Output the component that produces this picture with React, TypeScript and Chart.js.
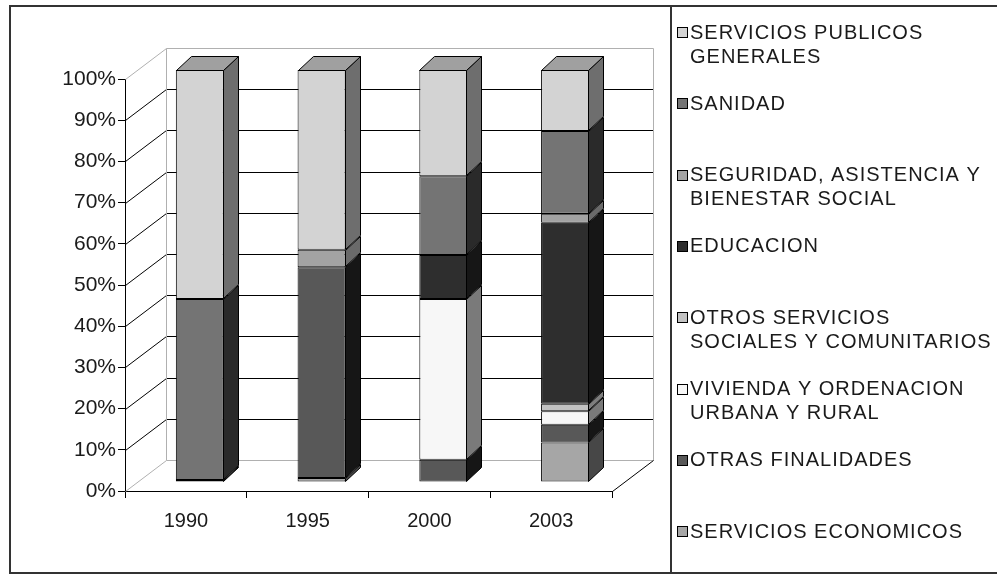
import React, { useEffect, useRef } from "react";
import { Chart, registerables } from "chart.js";

Chart.register(...registerables);

// ---- data (percent of total, bottom segment first) ----
const categories = ["1990", "1995", "2000", "2003"];
const serviciosEconomicos = [0.5, 1.0, null, 9.6];
const otrasFinalidades = [null, 51.1, 5.4, 4.3];
const viviendaOrdenacion = [null, null, 39.0, 3.3];
const otrosServiciosSociales = [null, null, null, 1.8];
const educacion = [null, null, 10.7, 43.9];
const seguridadAsistencia = [null, 4.3, null, 2.2];
const sanidad = [43.9, null, 19.1, 20.1];
const serviciosPublicos = [55.6, 43.6, 25.8, 14.8];

const seriesNames: string[][] = [
  ["SERVICIOS ECONOMICOS"],
  ["OTRAS FINALIDADES"],
  ["VIVIENDA Y ORDENACION", "URBANA Y RURAL"],
  ["OTROS SERVICIOS", "SOCIALES Y COMUNITARIOS"],
  ["EDUCACION"],
  ["SEGURIDAD, ASISTENCIA Y", "BIENESTAR SOCIAL"],
  ["SANIDAD"],
  ["SERVICIOS PUBLICOS", "GENERALES"],
];
const seriesValues = [
  serviciosEconomicos,
  otrasFinalidades,
  viviendaOrdenacion,
  otrosServiciosSociales,
  educacion,
  seguridadAsistencia,
  sanidad,
  serviciosPublicos,
];
const yTickStep = 10;
const yMax = 100;

// ---- styles ----
const frontColors = ["#a6a6a6", "#585858", "#f7f7f7", "#c2c2c2", "#2e2e2e", "#a3a3a3", "#747474", "#d3d3d3"];
const sideColors = ["#474747", "#161616", "#7a7a7a", "#7e7e7e", "#161616", "#6a6a6a", "#2a2a2a", "#6e6e6e"];
const topColor = "#a0a0a0";
const FONT = "'Liberation Sans', Arial, sans-serif";
const TEXT = "#1a1a1a";

const WALL_DX = 41;
const WALL_DY = -31;
const SHIFT_X = 14;
const SHIFT_Y = -9;
const DEPTH_X = 15;
const DEPTH_Y = -14;

const threeD = {
  id: "threeD",
  beforeDatasetsDraw(chart: any) {
    const { ctx, chartArea: a, scales } = chart;
    const y = scales.y;
    ctx.save();
    ctx.lineWidth = 1;
    y.ticks.forEach((t: any) => {
      const py = Math.round(y.getPixelForValue(t.value)) + 0.5;
      const edge = t.value === 0 || t.value === yMax;
      ctx.strokeStyle = edge ? "#b0b0b0" : "#000";
      ctx.beginPath();
      ctx.moveTo(a.left + 0.5, py);
      ctx.lineTo(a.left + WALL_DX + 0.5, py + WALL_DY);
      ctx.lineTo(a.right + WALL_DX + 0.5, py + WALL_DY);
      ctx.stroke();
    });
    const top = Math.round(y.getPixelForValue(yMax)) + 0.5 + WALL_DY;
    const bot = Math.round(y.getPixelForValue(0)) + 0.5 + WALL_DY;
    ctx.strokeStyle = "#b0b0b0";
    ctx.beginPath();
    ctx.moveTo(a.left + WALL_DX + 0.5, top);
    ctx.lineTo(a.left + WALL_DX + 0.5, bot);
    ctx.moveTo(a.right + WALL_DX + 0.5, top);
    ctx.lineTo(a.right + WALL_DX + 0.5, bot);
    ctx.stroke();
    ctx.strokeStyle = "#000";
    ctx.beginPath();
    ctx.moveTo(a.right + 0.5, bot - WALL_DY);
    ctx.lineTo(a.right + WALL_DX + 0.5, bot);
    ctx.stroke();
    ctx.restore();
    ctx.save();
    ctx.translate(SHIFT_X, SHIFT_Y);
  },
  afterDatasetsDraw(chart: any) {
    const ctx = chart.ctx;
    ctx.lineWidth = 1;
    ctx.strokeStyle = "#000";
    const n = chart.data.labels.length;
    for (let i = 0; i < n; i++) {
      let topEl: any = null;
      chart.data.datasets.forEach((ds: any, di: number) => {
        const el = chart.getDatasetMeta(di).data[i];
        if (!el || ds.data[i] == null) return;
        const xr = Math.round(el.x + el.width / 2) - 0.5;
        const yt = Math.round(el.y) + 0.5;
        const yb = Math.round(el.base) - 0.5;
        ctx.fillStyle = sideColors[di];
        ctx.beginPath();
        ctx.moveTo(xr, yt);
        ctx.lineTo(xr + DEPTH_X, yt + DEPTH_Y);
        ctx.lineTo(xr + DEPTH_X, yb + DEPTH_Y);
        ctx.lineTo(xr, yb);
        ctx.closePath();
        ctx.fill();
        ctx.stroke();
        if (!topEl || el.y < topEl.y) topEl = el;
      });
      if (topEl) {
        const xl = Math.round(topEl.x - topEl.width / 2) + 0.5;
        const xr = Math.round(topEl.x + topEl.width / 2) - 0.5;
        const yt = Math.round(topEl.y) + 0.5;
        ctx.fillStyle = topColor;
        ctx.beginPath();
        ctx.moveTo(xl, yt);
        ctx.lineTo(xl + DEPTH_X, yt + DEPTH_Y);
        ctx.lineTo(xr + DEPTH_X, yt + DEPTH_Y);
        ctx.lineTo(xr, yt);
        ctx.closePath();
        ctx.fill();
        ctx.stroke();
      }
    }
    ctx.restore();
  },
  afterDraw(chart: any) {
    const ctx = chart.ctx;
    ctx.save();
    // frame
    ctx.strokeStyle = "#333";
    ctx.lineWidth = 2;
    ctx.strokeRect(10, 6, 1000, 567);
    ctx.beginPath();
    ctx.moveTo(671, 6);
    ctx.lineTo(671, 573);
    ctx.stroke();
    // legend
    ctx.font = `20px ${FONT}`;
    (ctx as any).letterSpacing = "1px";
    ctx.textBaseline = "middle";
    ctx.textAlign = "left";
    const order = chart.data.datasets.map((_: any, i: number) => i).reverse();
    order.forEach((di: number, k: number) => {
      const y0 = 33 + k * 71.3;
      ctx.fillStyle = frontColors[di];
      ctx.fillRect(677, Math.round(y0 - 6), 11, 11);
      ctx.strokeStyle = "#000";
      ctx.lineWidth = 1;
      ctx.strokeRect(677.5, Math.round(y0 - 6) + 0.5, 10, 10);
      ctx.fillStyle = TEXT;
      seriesNames[di].forEach((line, li) => {
        ctx.fillText(line, 690, y0 + li * 24);
      });
    });
    ctx.restore();
  },
};

export default function App() {
  const ref = useRef<HTMLCanvasElement | null>(null);
  useEffect(() => {
    if (!ref.current) return;
    const chart = new Chart(ref.current, {
      type: "bar",
      data: {
        labels: categories,
        datasets: seriesValues.map((vals, i) => ({
          label: seriesNames[i].join(" "),
          data: vals as any,
          backgroundColor: frontColors[i],
          borderColor: "#000",
          borderWidth: 1,
          borderSkipped: false,
          categoryPercentage: 1,
          barPercentage: 0.395,
          clip: false as any,
        })),
      },
      options: {
        animation: false,
        responsive: false,
        devicePixelRatio: 1,
        events: [],
        layout: { padding: { left: 0, right: 385, top: 79, bottom: 0 } },
        plugins: { legend: { display: false }, tooltip: { enabled: false } },
        scales: {
          x: {
            stacked: true,
            grid: { display: true, drawOnChartArea: false, drawTicks: true, tickLength: 7, color: "#000", offset: true },
            border: { display: true, color: "#000", width: 1 },
            ticks: { font: { family: FONT, size: 20 }, color: TEXT, padding: 11 },
            afterFit: (s: any) => {
              s.height = 85;
            },
          },
          y: {
            stacked: true,
            min: 0,
            max: yMax,
            grid: { display: true, drawOnChartArea: false, drawTicks: true, tickLength: 7, color: "#000" },
            border: { display: true, color: "#000", width: 1 },
            ticks: {
              stepSize: yTickStep,
              font: { family: FONT, size: 21 },
              color: TEXT,
              padding: 2,
              callback: (v: any) => `${v}%`,
            },
            afterFit: (s: any) => {
              s.width = 125;
            },
          },
        },
      },
      plugins: [threeD],
    });
    return () => chart.destroy();
  }, []);
  return (
    <div style={{ position: "fixed", left: 0, top: 0, width: 997, height: 576, background: "#fff" }}>
      <canvas ref={ref} width={997} height={576} style={{ display: "block" }} />
    </div>
  );
}
